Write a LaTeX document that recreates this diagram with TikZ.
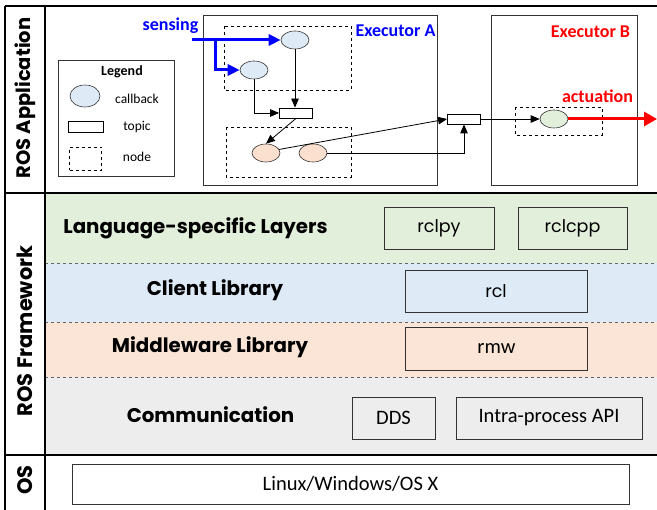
\documentclass[tikz,border=0pt]{standalone}
\usepackage{fontspec}
\setmainfont{Carlito}
\newfontfamily\gothic{Poppins}
\usetikzlibrary{arrows.meta,shapes.geometric}
\definecolor{lgreen}{HTML}{E2EFDA}
\definecolor{lblue}{HTML}{DEEBF7}
\definecolor{lorange}{HTML}{FBE5D6}
\definecolor{lgray}{HTML}{EDEDED}
\definecolor{cborange}{HTML}{FBE0CF}
\begin{document}
\begin{tikzpicture}[x=1pt,y=-1pt,
  frame/.style={line width=1.6pt},
  layerbox/.style={draw=black!80,line width=0.7pt,minimum width=#1,minimum height=42pt,inner sep=0pt,font=\gothic\fontsize{17.5}{20}\selectfont},
  plainbox/.style={draw=black!80,line width=0.7pt,minimum width=#1,minimum height=42pt,inner sep=0pt,font=\fontsize{20.5}{22}\selectfont},
  layerlabel/.style={font=\gothic\bfseries\fontsize{19.8}{22}\selectfont},
  sidelabel/.style={font=\gothic\bfseries\fontsize{21}{24}\selectfont,rotate=90},
  cb/.style={ellipse,draw=black!80,line width=0.6pt,minimum width=28pt,minimum height=18pt,inner sep=0pt},
  topicbox/.style={draw=black,line width=0.8pt,minimum width=33pt,minimum height=10pt,inner sep=0pt},
  rosnode/.style={draw=black,dashed,line width=0.8pt},
  exbox/.style={draw=black!80,line width=0.6pt},
  arr/.style={line width=0.8pt,-{Triangle[length=9pt,width=7.5pt]}},
  thickarr/.style={line width=3pt,-{Triangle[length=12pt,width=11pt]}},
  legtext/.style={font=\fontsize{13.5}{15}\selectfont},
  extitle/.style={font=\bfseries\fontsize{18}{20}\selectfont}
]
\useasboundingbox (0,0) rectangle (657,510);
% layer fills
\fill[lgreen] (45,193) rectangle (657,263);
\fill[lblue] (45,263) rectangle (657,322);
\fill[lorange] (45,322) rectangle (657,377);
\fill[lgray] (45,377) rectangle (657,455);
\draw[black!60,dashed,line width=0.6pt] (45,263) -- (657,263);
\draw[black!60,dashed,line width=0.6pt] (45,322) -- (657,322);
\draw[black!60,dashed,line width=0.6pt] (45,377) -- (657,377);
% frame
\draw[frame] (5,6) -- (657,6);
\draw[frame] (5,6) -- (5,510);
\draw[frame] (45,6) -- (45,510);
\draw[frame] (5,193) -- (657,193);
\draw[frame] (5,455) -- (657,455);
% side labels
\node[sidelabel,font=\gothic\bfseries\fontsize{19.5}{22}\selectfont] (lapp) at (25,98) {ROS Application};
\node[sidelabel] (lfw) at (25,331) {ROS Framework};
\node[sidelabel] (los) at (25,480) {OS};
% layer labels
\node[layerlabel] (llang) at (195.5,228) {Language-specific Layers};
\node[layerlabel] (lcl) at (215,290) {Client Library};
\node[layerlabel] (lmw) at (210,347) {Middleware Library};
\node[layerlabel] (lcomm) at (210.5,415) {Communication};
% layer boxes
\node[layerbox=110pt,fill=lgreen] (rclpy) at (439,228.5) {rclpy};
\node[layerbox=109pt,fill=lgreen] (rclcpp) at (572.5,228.5) {rclcpp};
\node[layerbox=182pt,fill=lblue] (rcl) at (496,291) {rcl};
\node[plainbox=182pt,fill=lorange,minimum height=43pt] (rmw) at (496.5,348.5) {rmw};
\node[plainbox=83pt,fill=lgray] (dds) at (393.5,418) {DDS};
\node[plainbox=186pt,fill=lgray] (ipa) at (549,418) {Intra-process API};
\node[plainbox=557pt,fill=white,minimum height=40pt] (osbox) at (350.5,484) {Linux/Windows/OS X};
% legend
\draw[exbox,line width=0.9pt] (58,60) rectangle (174,176);
\node[font=\bfseries\fontsize{14}{16}\selectfont] (legt) at (122,72) {Legend};
\node[cb,fill=lblue,minimum width=30pt,minimum height=22pt] (legcb) at (85,96) {};
\node[legtext] (legcbt) at (137,99) {callback};
\node[topicbox,minimum width=35pt,minimum height=11pt] (legtopic) at (85.5,127) {};
\node[legtext] (legtopict) at (137,127) {topic};
\node[rosnode,minimum width=32pt,minimum height=23pt,inner sep=0pt] (legnode) at (85.5,158.5) {};
\node[legtext] (legnodet) at (137,157) {node};
% executor A
\draw[exbox] (203,15) rectangle (437,185);
\node[extitle,text=blue] (exAt) at (395.5,31) {Executor A};
\draw[rosnode] (224,26) rectangle (351,90);
\draw[rosnode] (226,127) rectangle (351,177);
\node[cb,fill=lblue] (cbA1) at (295,40) {};
\node[cb,fill=lblue] (cbA2) at (254,70) {};
\node[topicbox] (topicA) at (296,113) {};
\node[cb,fill=cborange] (cbA3) at (266,153) {};
\node[cb,fill=cborange] (cbA4) at (313,153) {};
% sensing
\node[extitle,text=blue] (sens) at (170.5,26) {sensing};
\coordinate (sensin) at (192,40);
\coordinate (branch) at (215,40);
\draw[thickarr,blue] (sensin) -- (cbA1.west);
\draw[thickarr,blue] (branch) |- (cbA2.west);
% executor B
\draw[exbox] (491,15) rectangle (637,185);
\node[extitle,text=red] (exBt) at (590.5,32) {Executor B};
\draw[rosnode] (515,107) rectangle (602,135);
\node[topicbox] (topicB) at (464,119) {};
\node[cb,fill=lgreen] (cbB) at (554,119) {};
\node[extitle,text=red] (act) at (597.5,96) {actuation};
\coordinate (actend) at (657,119);
\draw[thickarr,red,-{Triangle[length=13pt,width=14pt]}] (cbB.east) -- (actend);
% black arrows
\draw[arr] (cbA1.south) -- (cbA1.south |- topicA.north);
\draw[arr] (cbA2.south) |- (topicA.west);
\draw[arr] (topicA.south) -- (cbA3.north);
\draw[arr] (cbA3.15) -- (topicB.west);
\draw[arr] (cbA4.east) -| (topicB.south);
\draw[arr] (topicB.east) -- (cbB.west);
\end{tikzpicture}
\end{document}
